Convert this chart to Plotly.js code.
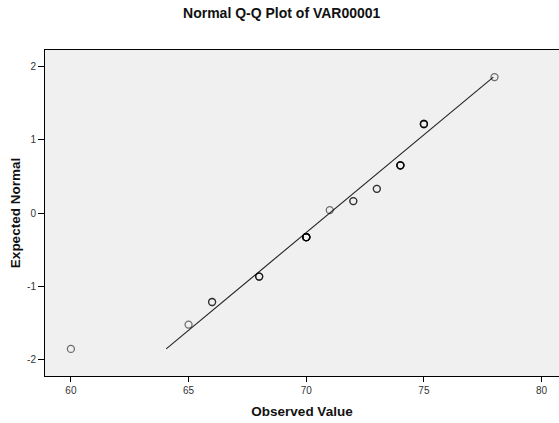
<!DOCTYPE html>
<html>
<head>
<meta charset="utf-8">
<script src="https://cdn.plot.ly/plotly-3.0.1.min.js"></script>
<style>
html,body{margin:0;padding:0;background:#fff;}
#chart{width:559px;height:423px;}
</style>
</head>
<body>
<div id="chart"></div>
<script>
// Observed values (unique), how many cases share each value, and expected normal scores
var observedValues = [60, 65, 66, 68, 70, 71, 72, 73, 74, 75, 78];
var caseCounts     = [1, 1, 2, 3, 8, 1, 2, 2, 5, 4, 1];
var expectedNormal = [-1.849, -1.518, -1.211, -0.865, -0.329, 0.040, 0.162, 0.329, 0.649, 1.211, 1.849];

// Reference line end points (observed value, expected normal)
var lineObserved = [64.05, 77.95];
var lineExpected = [-1.849, 1.849];

var xTicks = [60, 65, 70, 75, 80];
var yTicks = [-2, -1, 0, 1, 2];

// expand tied cases so overlapping circles darken, as in the original
var px = [], py = [];
for (var i = 0; i < observedValues.length; i++) {
  for (var k = 0; k < caseCounts[i]; k++) {
    px.push(observedValues[i]);
    py.push(expectedNormal[i]);
  }
}

var font = "Liberation Sans, Arial, sans-serif";

var traces = [
  {
    x: lineObserved, y: lineExpected, type: 'scatter', mode: 'lines',
    line: {color: '#222222', width: 1.1}, hoverinfo: 'skip', showlegend: false
  },
  {
    x: px, y: py, type: 'scatter', mode: 'markers',
    marker: {symbol: 'circle-open', size: 7, color: 'rgba(0,0,0,0.55)', line: {width: 1.3, color: 'rgba(0,0,0,0.55)'}},
    showlegend: false
  }
];

var layout = {
  width: 559, height: 423,
  margin: {l: 45, r: 0, t: 50, b: 47, pad: 0},
  paper_bgcolor: '#ffffff',
  plot_bgcolor: '#f0f0f0',
  font: {family: font, color: '#222'},
  title: {
    text: '<b>Normal Q-Q Plot of VAR00001</b>',
    font: {family: font, size: 14, color: '#111'},
    xref: 'container', x: 0.504, xanchor: 'center',
    yref: 'container', y: 1 - 13/423, yanchor: 'middle'
  },
  xaxis: {
    range: [58.9, 80.74], tickvals: xTicks, ticktext: xTicks.map(String),
    showgrid: false, zeroline: false,
    showline: true, linecolor: '#000', linewidth: 1, mirror: true,
    ticks: 'outside', ticklen: 5, tickcolor: '#000', tickwidth: 1,
    tickfont: {family: font, size: 10, color: '#333'},
    title: {text: '<b>Observed Value</b>', font: {family: font, size: 13.5, color: '#111'}, standoff: 11}
  },
  yaxis: {
    range: [-2.218, 2.218], tickvals: yTicks, ticktext: yTicks.map(String),
    showgrid: false, zeroline: false,
    showline: true, linecolor: '#000', linewidth: 1, mirror: false,
    ticks: 'outside', ticklen: 6, tickcolor: '#000', tickwidth: 1,
    tickfont: {family: font, size: 10, color: '#333'},
    title: {text: '<b>Expected Normal</b>', font: {family: font, size: 13.5, color: '#111'}, standoff: 3}
  }
};

Plotly.newPlot('chart', traces, layout, {staticPlot: true, displayModeBar: false});
</script>
</body>
</html>
